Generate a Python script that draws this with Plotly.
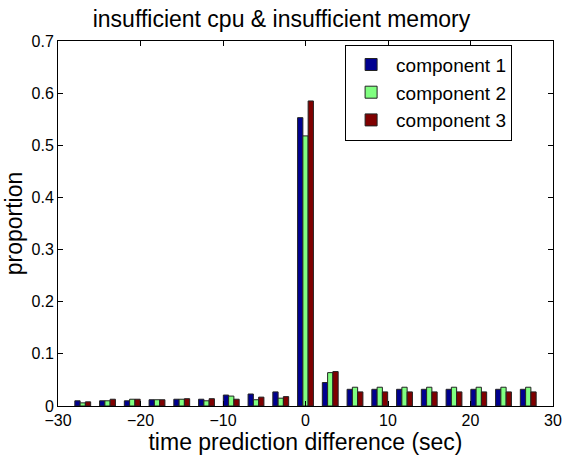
import plotly.graph_objects as go

# Bin centres of the time prediction difference (sec)
bins = [-27, -24, -21, -18, -15, -12, -9, -6, -3, 0, 3, 6, 9, 12, 15, 18, 21, 24, 27]

comp1 = [0.010, 0.010, 0.010, 0.012, 0.013, 0.013, 0.021, 0.023, 0.027, 0.553,
         0.045, 0.032, 0.032, 0.032, 0.032, 0.032, 0.032, 0.032, 0.032]
comp2 = [0.006, 0.010, 0.013, 0.012, 0.013, 0.010, 0.019, 0.012, 0.015, 0.518,
         0.064, 0.036, 0.036, 0.036, 0.036, 0.036, 0.036, 0.036, 0.036]
comp3 = [0.008, 0.013, 0.013, 0.012, 0.014, 0.014, 0.013, 0.017, 0.018, 0.585,
         0.066, 0.027, 0.027, 0.027, 0.027, 0.027, 0.027, 0.027, 0.027]

names = ["component 1", "component 2", "component 3"]
colors = ["#000090", "#80FF80", "#800000"]

FONT = "Liberation Sans, Arial, Helvetica, sans-serif"

fig = go.Figure()
for name, vals, col in zip(names, [comp1, comp2, comp3], colors):
    fig.add_trace(go.Bar(
        x=bins, y=vals, name=name,
        marker=dict(color=col, line=dict(color="#222222", width=1)),
    ))

fig.update_layout(
    width=563, height=458,
    margin=dict(l=58, r=10, t=41, b=52, autoexpand=False),
    paper_bgcolor="white", plot_bgcolor="white",
    barmode="group", bargap=0.36, bargroupgap=0,
    font=dict(family=FONT, color="black", size=16),
    title=dict(text="insufficient cpu & insufficient memory",
               x=0.5, xanchor="center", y=0.958, yanchor="middle",
               font=dict(size=23, family=FONT)),
    legend=dict(x=0.58, y=0.99, xanchor="left", yanchor="top",
                bgcolor="white", bordercolor="black", borderwidth=1,
                font=dict(size=19, family=FONT), itemwidth=40,
                tracegroupgap=0),
    showlegend=True,
)

fig.update_xaxes(
    range=[-30, 30], tickmode="linear", tick0=-30, dtick=10,
    ticks="inside", ticklen=5, tickcolor="black",
    showline=True, linecolor="black", linewidth=1, mirror="ticks",
    showgrid=False, zeroline=False, automargin=False,
    title=dict(text="time prediction difference (sec)", font=dict(size=23, family=FONT), standoff=0),
    tickfont=dict(size=16),
)
fig.update_yaxes(
    range=[0, 0.7], tickmode="linear", tick0=0, dtick=0.1,
    ticks="inside", ticklen=5, tickcolor="black",
    showline=True, linecolor="black", linewidth=1, mirror="ticks",
    showgrid=False, zeroline=False, automargin=False,
    title=dict(text="proportion", font=dict(size=23, family=FONT), standoff=2),
    tickfont=dict(size=16),
)

fig.write_html("out.html")
